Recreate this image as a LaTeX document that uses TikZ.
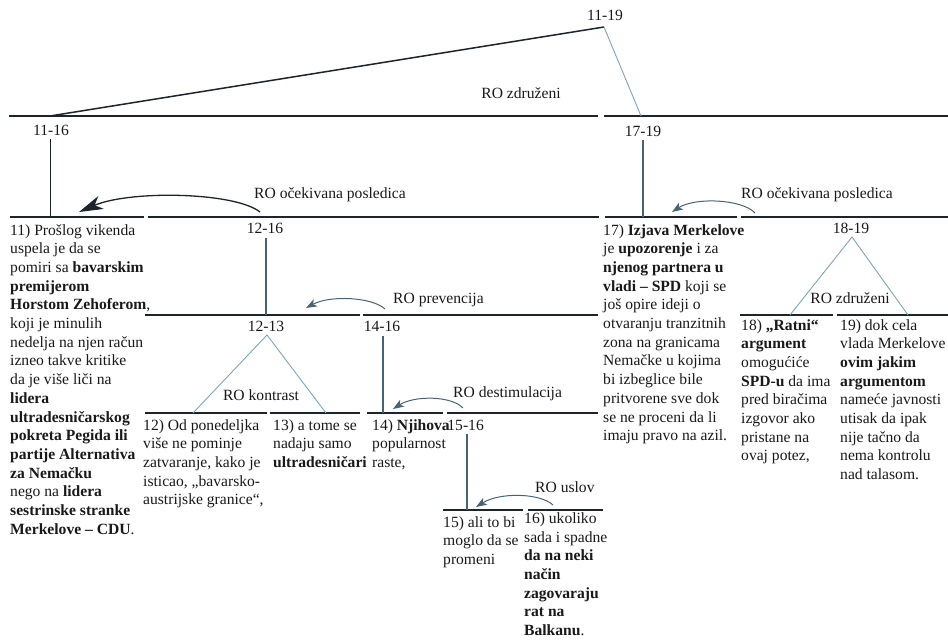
\documentclass[tikz,border=0pt]{standalone}
\usepackage{fontspec}
\setmainfont{Liberation Serif}
\usetikzlibrary{arrows.meta}
\definecolor{barc}{RGB}{28,36,44}
\definecolor{stemc}{RGB}{70,100,120}
\definecolor{lightc}{RGB}{125,165,190}
\begin{document}
\begin{tikzpicture}[x=1pt,y=-1pt,
  every node/.style={inner sep=0pt, font=\fontsize{15.6}{18.7}\selectfont, text=black!90},
  lbl/.style={anchor=base},
  lblw/.style={anchor=base west},
  % multi-line segments are placed by the baseline of their last line
  txt/.style={anchor=base west, align=left},
  topbar/.style={draw=barc, line width=2.2pt},
  bar/.style={draw=barc, line width=1.7pt},
  topdiag/.style={draw=barc, line width=1.5pt},
  span/.style={draw=lightc, line width=0.9pt},
  stem/.style={draw=stemc, line width=1.3pt},
  darkstem/.style={draw=barc, line width=1pt},
  relarrow/.style={draw=stemc, line width=1pt, -{Stealth[length=11pt,width=8pt,inset=3pt]}},
  bigarrow/.style={draw=barc, line width=1.3pt, -{Stealth[length=24pt,width=14pt,inset=7pt]}},
]
\useasboundingbox (0,0) rectangle (948,640);

% ---- horizontal bars of the tree ----
\draw[topbar] (9,116) -- (598,116);
\draw[topbar] (604,116) -- (948,116);
\draw[bar] (10,217) -- (144,217);
\draw[bar] (148,217) -- (599,217);
\draw[bar] (605,217) -- (737,217);
\draw[bar] (741,217) -- (948,217);
\draw[bar] (145,315) -- (360,315);
\draw[bar] (363,315) -- (598,315);
\draw[bar] (740,315) -- (833,315);
\draw[bar] (837,315) -- (948,315);
\draw[bar] (145,413) -- (267,413);
\draw[bar] (270,413) -- (360,413);
\draw[bar] (367,413) -- (443,413);
\draw[bar] (447,413) -- (598,413);
\draw[bar] (443,510) -- (523,510);
\draw[bar] (528,510) -- (603,510);

% ---- span labels ----
\node[lbl] (l1119) at (605,20) {11-19};
\node[lbl] (rz1) at (521,98) {RO združeni};
\node[lbl] (l1116) at (51,135) {11-16};
\node[lbl] (l1719) at (643,136) {17-19};
\node[lbl] (ro1) at (330,198) {RO očekivana posledica};
\node[lbl] (ro2) at (817,198) {RO očekivana posledica};
\node[lbl] (l1216) at (265,233) {12-16};
\node[lbl] (l1213) at (266,331) {12-13};
\node[lbl] (l1416) at (382,331) {14-16};
\node[lblw] (rprev) at (393,303) {RO prevencija};
\node[lbl] (rkon) at (261,400) {RO kontrast};
\node[lblw] (rdest) at (453,397) {RO destimulacija};
\node[lblw] (rusl) at (535,492) {RO uslov};
\node[lbl] (l1819) at (851,233) {18-19};
\node[lbl] (rz2) at (850,303) {RO združeni};

% ---- text segments ----
\node[txt] (s11) at (10,534.2) {11) Prošlog vikenda\\uspela je da se\\pomiri sa \textbf{bavarskim}\\\textbf{premijerom}\\\textbf{Horstom Zehoferom},\\koji je minulih\\nedelja na njen račun\\izneo takve kritike\\da je više liči na\\\textbf{lidera}\\\textbf{ultradesničarskog}\\\textbf{pokreta Pegida ili}\\\textbf{partije Alternativa}\\\textbf{za Nemačku}\\nego na \textbf{lidera}\\\textbf{sestrinske stranke}\\\textbf{Merkelove – CDU}.};
\node[txt] (s12) at (143,504.8) {12) Od ponedeljka\\više ne pominje\\zatvaranje, kako je\\isticao, „bavarsko-\\austrijske granice“,};
\node[txt] (s13) at (273,467.4) {13) a tome se\\nadaju samo\\\textbf{ultradesničari}};
\node[lbl, anchor=base east] (l1516) at (484,430) {15-16};
\node[txt] (s14) at (372,467.4) {14) \textbf{Njihova}\\popularnost\\raste,};
\node[txt] (s15) at (443,564.4) {15) ali to bi\\moglo da se\\promeni};
\node[txt] (s16) at (524,635.5) {16) ukoliko\\sada i spadne\\\textbf{da na neki}\\\textbf{način}\\\textbf{zagovaraju}\\\textbf{rat na}\\\textbf{Balkanu}.};
\node[txt] (s17) at (603,440.7) {17) \textbf{Izjava Merkelove}\\je \textbf{upozorenje} i za\\\textbf{njenog partnera u}\\\textbf{vladi – SPD} koji se\\još opire ideji o\\otvaranju tranzitnih\\zona na granicama\\Nemačke u kojima\\bi izbeglice bile\\pritvorene sve dok\\se ne proceni da li\\imaju pravo na azil.};
\node[txt] (s18) at (741,460.9) {18) \textbf{„Ratni“}\\\textbf{argument}\\omogućiće\\\textbf{SPD-u} da ima\\pred biračima\\izgovor ako\\pristane na\\ovaj potez,};
\node[txt] (s19) at (840,479.6) {19) dok cela\\vlada Merkelove\\\textbf{ovim jakim}\\\textbf{argumentom}\\nameće javnosti\\utisak da ipak\\nije tačno da\\nema kontrolu\\nad talasom.};

% ---- joints of the tree ----
\coordinate (r1119) at (604,27);
\coordinate (f1116) at (50,116);
\coordinate (f1719) at (641,116);
\coordinate (t1116) at (50,139);
\coordinate (b1116) at (50,217);
\coordinate (t1719) at (643,140);
\coordinate (b1719) at (643,217);
\coordinate (t1216) at (266,238);
\coordinate (b1216) at (266,315);
\coordinate (t1416) at (383,336);
\coordinate (b1416) at (383,413);
\coordinate (t1516) at (467,434);
\coordinate (b1516) at (467,510);
\coordinate (a1213) at (267,335);
\coordinate (l1213f) at (193,413);
\coordinate (r1213f) at (326,413);
\coordinate (a1819) at (852,237);
\coordinate (l1819f) at (790,315);
\coordinate (r1819f) at (908,315);

\draw[topdiag] (r1119) -- (f1116);
\draw[span] (r1119) -- (f1719);
\draw[darkstem] (t1116) -- (b1116);
\draw[stem] (t1719) -- (b1719);
\draw[stem] (t1216) -- (b1216);
\draw[stem] (t1416) -- (b1416);
\draw[stem] (t1516) -- (b1516);
\draw[span] (l1213f) -- (a1213) -- (r1213f);
\draw[span] (l1819f) -- (a1819) -- (r1819f);

% ---- relation arrows ----
\coordinate (o1s) at (260,212);
\coordinate (o1e) at (79,212);
\coordinate (o2s) at (755,213);
\coordinate (o2e) at (672,212);
\coordinate (ps) at (385,309);
\coordinate (pe) at (306,308);
\coordinate (ds) at (463,408);
\coordinate (de) at (393,409);
\coordinate (us) at (553,505);
\coordinate (ue) at (476,507);
\draw[bigarrow] (o1s) .. controls (235,192) and (130,190) .. (o1e);
\draw[relarrow] (o2s) .. controls (742,199) and (695,197) .. (o2e);
\draw[relarrow] (ps) .. controls (372,297) and (330,295) .. (pe);
\draw[relarrow] (ds) .. controls (452,396) and (415,395) .. (de);
\draw[relarrow] (us) .. controls (540,493) and (500,492) .. (ue);
\end{tikzpicture}
\end{document}
